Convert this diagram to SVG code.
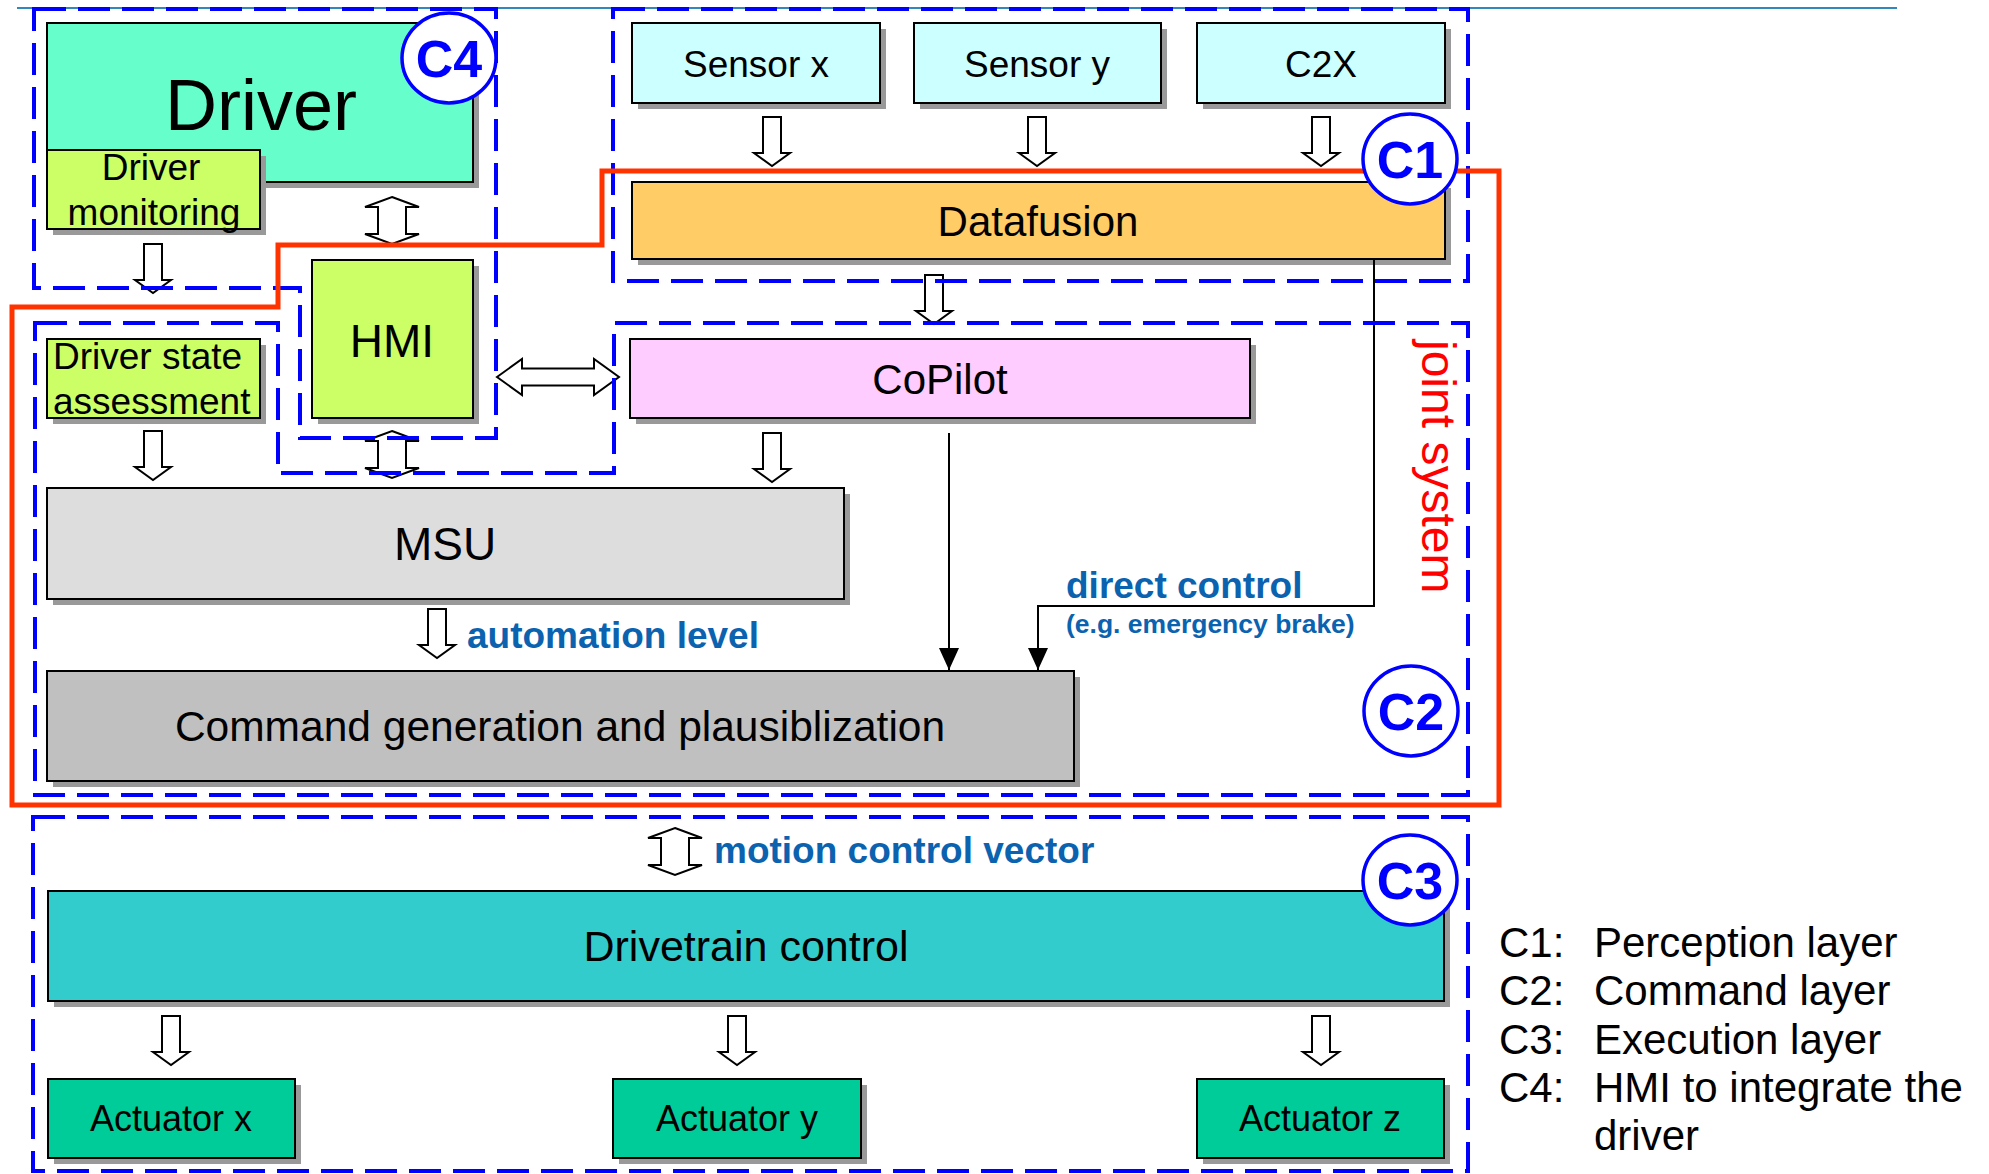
<svg xmlns="http://www.w3.org/2000/svg" width="1989" height="1174" viewBox="0 0 1989 1174">
  <style>
    .box { stroke: #000; stroke-width: 2; }
    .shadow { fill: #999; }
    .lbl { font-family: "Liberation Sans", Arial, sans-serif; fill: #000; text-anchor: middle; }
    .lbl.left { text-anchor: start; }
    .note { font-family: "Liberation Sans", Arial, sans-serif; font-weight: bold; fill: #0b63b0; }
    .legend { font-family: "Liberation Sans", Arial, sans-serif; fill: #000; font-size: 42px; }
    .zone { fill: none; stroke: #0000ff; stroke-width: 4; stroke-dasharray: 32 12; }
    .hollow { fill: #fff; stroke: #000; stroke-width: 2; stroke-linejoin: miter; }
    .wire { fill: none; stroke: #000; stroke-width: 2; }
    .badge ellipse { fill: #fff; stroke: #0000ff; stroke-width: 3.5; }
    .badge text { font-family: "Liberation Sans", Arial, sans-serif; font-weight: bold; font-size: 52px; fill: #0000ff; text-anchor: middle; }
  </style>
  <defs>
    <!-- hollow block arrows, drawn from their top (or left) tip -->
    <path id="down" d="M-9,0 H9 V36 H18 L0,49 L-18,36 H-9 Z"/>
    <path id="updown" d="M0,0 L27,10 H14 V37 H27 L0,47 L-27,37 H-14 V10 H-27 Z"/>
    <path id="leftright" d="M0,0 L25,-18 V-8.5 H97 V-18 L122,0 L97,18 V8.5 H25 V18 Z"/>
    <marker id="head" viewBox="0 0 22 20" refX="22" refY="10" markerWidth="22" markerHeight="20" markerUnits="userSpaceOnUse" orient="auto">
      <path d="M0,0 L22,10 L0,20 Z" fill="#000"/>
    </marker>
  </defs>

  <rect width="1989" height="1174" fill="#fff"/>
  <line x1="17" y1="8" x2="1897" y2="8" stroke="#3388bb" stroke-width="2"/>

  <!-- nodes -->
  <g id="driver">
    <rect class="shadow" x="53" y="29" width="426" height="159"/>
    <rect class="box" x="47" y="23" width="426" height="159" fill="#66ffcc"/>
    <text class="lbl" x="261" y="130" font-size="72">Driver</text>
  </g>
  <g id="driver-monitoring">
    <rect class="shadow" x="53" y="156" width="213" height="79"/>
    <rect class="box" x="47" y="150" width="213" height="79" fill="#ccff66"/>
    <text class="lbl" x="151" y="180" font-size="37">Driver</text>
    <text class="lbl" x="154" y="225" font-size="37">monitoring</text>
  </g>
  <g id="sensor-x">
    <rect class="shadow" x="638" y="29" width="248" height="80"/>
    <rect class="box" x="632" y="23" width="248" height="80" fill="#ccffff"/>
    <text class="lbl" x="756" y="77" font-size="37">Sensor x</text>
  </g>
  <g id="sensor-y">
    <rect class="shadow" x="920" y="29" width="247" height="80"/>
    <rect class="box" x="914" y="23" width="247" height="80" fill="#ccffff"/>
    <text class="lbl" x="1037" y="77" font-size="37">Sensor y</text>
  </g>
  <g id="c2x">
    <rect class="shadow" x="1203" y="29" width="248" height="80"/>
    <rect class="box" x="1197" y="23" width="248" height="80" fill="#ccffff"/>
    <text class="lbl" x="1321" y="77" font-size="37">C2X</text>
  </g>
  <g id="datafusion">
    <rect class="shadow" x="638" y="188" width="813" height="77"/>
    <rect class="box" x="632" y="182" width="813" height="77" fill="#ffcc66"/>
    <text class="lbl" x="1038" y="236" font-size="42">Datafusion</text>
  </g>
  <g id="hmi">
    <rect class="shadow" x="318" y="266" width="161" height="158"/>
    <rect class="box" x="312" y="260" width="161" height="158" fill="#ccff66"/>
    <text class="lbl" x="392" y="357" font-size="46">HMI</text>
  </g>
  <g id="driver-state">
    <rect class="shadow" x="53" y="345" width="213" height="79"/>
    <rect class="box" x="47" y="339" width="213" height="79" fill="#ccff66"/>
    <text class="lbl left" x="53" y="369" font-size="37">Driver state</text>
    <text class="lbl left" x="53" y="414" font-size="37">assessment</text>
  </g>
  <g id="copilot">
    <rect class="shadow" x="636" y="345" width="620" height="79"/>
    <rect class="box" x="630" y="339" width="620" height="79" fill="#ffccff"/>
    <text class="lbl" x="940" y="394" font-size="42">CoPilot</text>
  </g>
  <g id="msu">
    <rect class="shadow" x="53" y="494" width="797" height="111"/>
    <rect class="box" x="47" y="488" width="797" height="111" fill="#dddddd"/>
    <text class="lbl" x="445" y="560" font-size="46">MSU</text>
  </g>
  <g id="command">
    <rect class="shadow" x="53" y="677" width="1027" height="110"/>
    <rect class="box" x="47" y="671" width="1027" height="110" fill="#c0c0c0"/>
    <text class="lbl" x="560" y="741" font-size="42.5">Command generation and plausiblization</text>
  </g>
  <g id="drivetrain">
    <rect class="shadow" x="54" y="897" width="1396" height="110"/>
    <rect class="box" x="48" y="891" width="1396" height="110" fill="#33cccc"/>
    <text class="lbl" x="746" y="961" font-size="43">Drivetrain control</text>
  </g>
  <g id="actuator-x">
    <rect class="shadow" x="54" y="1085" width="247" height="79"/>
    <rect class="box" x="48" y="1079" width="247" height="79" fill="#00cc99"/>
    <text class="lbl" x="171" y="1131" font-size="36">Actuator x</text>
  </g>
  <g id="actuator-y">
    <rect class="shadow" x="619" y="1085" width="248" height="79"/>
    <rect class="box" x="613" y="1079" width="248" height="79" fill="#00cc99"/>
    <text class="lbl" x="737" y="1131" font-size="36">Actuator y</text>
  </g>
  <g id="actuator-z">
    <rect class="shadow" x="1203" y="1085" width="247" height="79"/>
    <rect class="box" x="1197" y="1079" width="247" height="79" fill="#00cc99"/>
    <text class="lbl" x="1320" y="1131" font-size="36">Actuator z</text>
  </g>

  <!-- connectors -->
  <g id="connectors">
    <use href="#down" class="hollow" x="772" y="117"/>
    <use href="#down" class="hollow" x="1037" y="117"/>
    <use href="#down" class="hollow" x="1321" y="117"/>
    <use href="#down" class="hollow" x="934" y="275"/>
    <use href="#down" class="hollow" x="153" y="244"/>
    <use href="#down" class="hollow" x="153" y="431"/>
    <use href="#down" class="hollow" x="772" y="433"/>
    <use href="#down" class="hollow" x="437" y="609"/>
    <use href="#down" class="hollow" x="171" y="1016"/>
    <use href="#down" class="hollow" x="737" y="1016"/>
    <use href="#down" class="hollow" x="1321" y="1016"/>
    <use href="#updown" class="hollow" x="392" y="197"/>
    <use href="#updown" class="hollow" x="392" y="431"/>
    <use href="#updown" class="hollow" x="675" y="828"/>
    <use href="#leftright" class="hollow" x="497" y="377"/>
    <line class="wire" x1="949" y1="433" x2="949" y2="670" marker-end="url(#head)"/>
    <polyline class="wire" points="1374,259 1374,606 1038,606 1038,670" marker-end="url(#head)"/>
  </g>

  <!-- layer boundaries -->
  <g id="zones">
    <path class="zone" d="M34,9 H496 V438 H300 V288 H34 Z"/>
    <rect class="zone" x="613" y="9" width="855" height="272"/>
    <path class="zone" d="M35,323 H278 V473 H614 V323 H1468 V795 H35 Z"/>
    <rect class="zone" x="33" y="817" width="1435" height="354"/>
  </g>

  <!-- joint system outline -->
  <g id="joint-system">
    <path d="M12,307 H278 V245 H602 V171 H1499 V805 H12 Z" fill="none" stroke="#ff3300" stroke-width="5"/>
    <text transform="translate(1422,340) rotate(90)" font-family="Liberation Sans, Arial, sans-serif" font-size="48" fill="#ff0000">joint system</text>
  </g>

  <!-- annotations -->
  <g id="labels">
    <text class="note" x="467" y="648" font-size="37">automation level</text>
    <text class="note" x="1066" y="598" font-size="37">direct control</text>
    <text class="note" x="1066" y="633" font-size="26.5">(e.g. emergency brake)</text>
    <text class="note" x="714" y="863" font-size="37">motion control vector</text>
  </g>

  <!-- layer badges -->
  <g id="badge-c4" class="badge"><ellipse cx="449" cy="58" rx="47" ry="45"/><text x="449" y="77">C4</text></g>
  <g id="badge-c1" class="badge"><ellipse cx="1410" cy="159" rx="47" ry="45"/><text x="1410" y="178">C1</text></g>
  <g id="badge-c2" class="badge"><ellipse cx="1411" cy="711" rx="47" ry="45"/><text x="1411" y="730">C2</text></g>
  <g id="badge-c3" class="badge"><ellipse cx="1410" cy="880" rx="47" ry="45"/><text x="1410" y="899">C3</text></g>

  <!-- legend -->
  <g id="legend" class="legend">
    <text x="1499" y="957">C1:</text><text x="1594" y="957">Perception layer</text>
    <text x="1499" y="1005">C2:</text><text x="1594" y="1005">Command layer</text>
    <text x="1499" y="1054">C3:</text><text x="1594" y="1054">Execution layer</text>
    <text x="1499" y="1102">C4:</text><text x="1594" y="1102">HMI to integrate the</text>
    <text x="1594" y="1150">driver</text>
  </g>
</svg>
